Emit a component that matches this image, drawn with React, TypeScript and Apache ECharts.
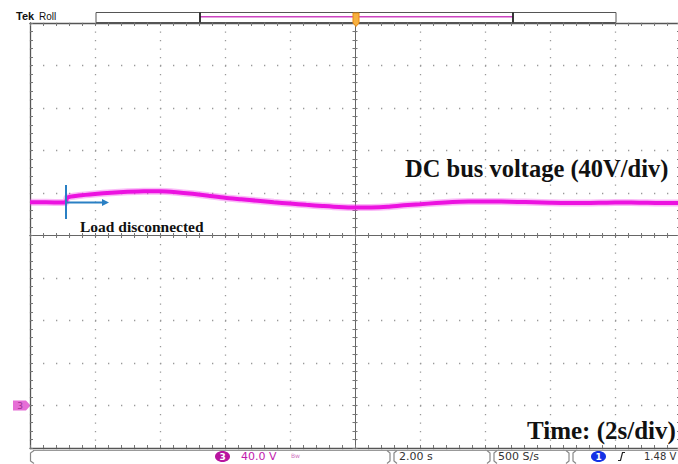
import React, { useEffect, useRef } from 'react';
import * as echarts from 'echarts';

// Time (s) since start of the 20 s roll window (2 s/div, 10 div)
const times = [0, 0.5, 1.0, 1.1, 1.15, 1.5, 2.0, 2.5, 3.0, 3.5, 4.0, 4.5, 5.0, 5.5, 6.0, 6.5, 7.0, 7.5, 8.0, 8.5, 9.0, 9.5, 10.0, 10.5, 11.0, 11.5, 12.0, 12.5, 13.0, 13.5, 14.0, 14.5, 15.0, 15.5, 16.0, 16.5, 17.0, 17.5, 18.0, 18.5, 19.0, 19.5, 20.0];
// DC bus voltage (V), ground reference = 0 V, 40 V/div
const volts = [191.3, 191.2, 191.1, 191.1, 195.8, 197.6, 199.1, 200.2, 201.1, 201.7, 201.7, 200.8, 199.3, 197.4, 195.5, 194.1, 192.7, 191.3, 190.1, 188.9, 187.8, 186.8, 186.3, 186.4, 187.1, 188.4, 189.4, 190.6, 191.5, 191.9, 192.0, 191.9, 191.6, 191.3, 190.9, 190.6, 190.6, 190.8, 191.0, 191.0, 190.8, 190.6, 190.6];

const timeMin = 0;
const timeMax = 20;
const timeStep = 2;
const voltMin = -40;
const voltMax = 360;
const voltStep = 40;
const divMin = -5;
const divMax = 5;

const annotationTitle = 'DC bus voltage (40V/div)';
const annotationEvent = 'Load disconnected';
const annotationTime = 'Time: (2s/div)';
const statusTexts = { ch3Scale: '40.0 V', timebase: '2.00 s', rate: '500 S/s', trig: '1.48 V' };

export default function App() {
  const ref = useRef<HTMLDivElement>(null);

  useEffect(() => {
    if (!ref.current) return;
    const chart = echarts.init(ref.current, undefined, { renderer: 'svg' });

    const borderLine = { show: true, onZero: false, lineStyle: { color: '#555', width: 1.3 } };
    const tickIn = { show: true, inside: true, length: 3, lineStyle: { color: '#777', width: 1 } };
    const minorIn = { show: true, splitNumber: 5, length: 3, lineStyle: { color: '#777', width: 1 } };
    const noLabel = { show: false };

    const crossLine = (idx: number) => ({ show: true, onZero: true, onZeroAxisIndex: idx, lineStyle: { color: '#666', width: 1 } });
    const crossTick = (inside: boolean) => ({ show: true, inside, length: 2.5, lineStyle: { color: '#777', width: 1 } });
    const crossMinor = { show: true, splitNumber: 5, length: 2.5, lineStyle: { color: '#777', width: 1 } };

    const traceData = times.map((t, i) => [t, volts[i]]);
    const font = 'DejaVu Sans';
    const serif = 'Liberation Serif';

    const option: any = {
      animation: false,
      backgroundColor: '#ffffff',
      grid: { left: 30, top: 23, width: 650, height: 425, outerBoundsMode: 'none', containLabel: false },
      xAxis: [
        {
          type: 'value', min: timeMin, max: timeMax, interval: timeStep, position: 'bottom',
          axisLine: borderLine, axisTick: tickIn, minorTick: minorIn, axisLabel: noLabel,
          splitLine: { show: true, lineStyle: { color: '#999', width: 1.3, type: [1.3, 7.2] } },
        },
        {
          type: 'value', min: timeMin, max: timeMax, interval: timeStep, position: 'top',
          axisLine: borderLine, axisTick: tickIn, minorTick: minorIn, axisLabel: noLabel,
          splitLine: { show: false },
        },
        {
          type: 'value', min: divMin, max: divMax, interval: 1, position: 'bottom',
          axisLine: crossLine(2), axisTick: crossTick(true), minorTick: crossMinor, axisLabel: noLabel,
          splitLine: { show: false },
        },
        {
          type: 'value', min: divMin, max: divMax, interval: 1, position: 'bottom',
          axisLine: crossLine(2), axisTick: crossTick(false), minorTick: crossMinor, axisLabel: noLabel,
          splitLine: { show: false },
        },
      ],
      yAxis: [
        {
          type: 'value', min: voltMin, max: voltMax, interval: voltStep, position: 'left',
          axisLine: borderLine, axisTick: tickIn, minorTick: minorIn, axisLabel: noLabel,
          splitLine: { show: true, lineStyle: { color: '#999', width: 1.3, type: [1.3, 11.7] } },
        },
        {
          type: 'value', min: voltMin, max: voltMax, interval: voltStep, position: 'right',
          axisLine: borderLine, axisTick: tickIn, minorTick: minorIn, axisLabel: noLabel,
          splitLine: { show: false },
        },
        {
          type: 'value', min: divMin, max: divMax, interval: 1, position: 'left',
          axisLine: crossLine(2), axisTick: crossTick(true), minorTick: crossMinor, axisLabel: noLabel,
          splitLine: { show: false },
        },
        {
          type: 'value', min: divMin, max: divMax, interval: 1, position: 'left',
          axisLine: crossLine(2), axisTick: crossTick(false), minorTick: crossMinor, axisLabel: noLabel,
          splitLine: { show: false },
        },
      ],
      series: [
        {
          type: 'line', xAxisIndex: 0, yAxisIndex: 0, data: traceData, showSymbol: false, smooth: 0.2,
          lineStyle: { color: '#f03ce8', width: 7, opacity: 0.35 }, z: 3, silent: true,
        },
        {
          type: 'line', xAxisIndex: 0, yAxisIndex: 0, data: traceData, showSymbol: false, smooth: 0.2,
          lineStyle: { color: '#ec12e0', width: 4 }, z: 4, silent: true,
        },
      ],
      graphic: [
        // header
        { type: 'text', left: 16, top: 10, style: { text: 'Tek', font: `bold 11px "Liberation Sans"`, fill: '#111' } },
        { type: 'text', left: 39, top: 11, style: { text: 'Roll', font: `10px "Liberation Sans"`, fill: '#111' } },
        { type: 'rect', shape: { x: 96, y: 12.5, width: 520, height: 10 }, style: { fill: '#fff', stroke: '#555', lineWidth: 1 } },
        { type: 'line', shape: { x1: 200, y1: 16.7, x2: 513, y2: 16.7 }, style: { stroke: '#cc44c0', lineWidth: 1.5 } },
        { type: 'line', shape: { x1: 200, y1: 12.5, x2: 200, y2: 22.5 }, style: { stroke: '#222', lineWidth: 1.8 } },
        { type: 'line', shape: { x1: 513, y1: 12.5, x2: 513, y2: 22.5 }, style: { stroke: '#222', lineWidth: 1.8 } },
        { type: 'polygon', z: 10, shape: { points: [[353, 13], [359, 13], [359, 23], [356, 26.5], [353, 23]] }, style: { fill: '#f7b040', stroke: '#e88a10', lineWidth: 1 } },
        // ground marker channel 3
        { type: 'polygon', shape: { points: [[13, 400.5], [26, 400.5], [30.5, 405.5], [26, 410.5], [13, 410.5]] }, style: { fill: '#e66ed6' } },
        { type: 'text', x: 20, y: 405.5, style: { text: '3', font: `9px "${font}"`, fill: '#a03095', align: 'center', verticalAlign: 'middle' } },
        // status bar
        { type: 'line', shape: { x1: 33, y1: 450.5, x2: 678, y2: 450.5 }, style: { stroke: '#999', lineWidth: 1 } },
        { type: 'polyline', shape: { points: [[34, 450.5], [30.5, 453], [30.5, 461], [34, 463.5]] }, style: { stroke: '#888', lineWidth: 1.2, fill: null } },
        { type: 'polyline', shape: { points: [[387, 450.5], [390, 453], [390, 461], [387, 463.5]] }, style: { stroke: '#888', lineWidth: 1.2, fill: null } },
        { type: 'polyline', shape: { points: [[397, 450.5], [394, 453], [394, 461], [397, 463.5]] }, style: { stroke: '#888', lineWidth: 1.2, fill: null } },
        { type: 'polyline', shape: { points: [[487, 450.5], [490, 453], [490, 461], [487, 463.5]] }, style: { stroke: '#888', lineWidth: 1.2, fill: null } },
        { type: 'polyline', shape: { points: [[497, 450.5], [494, 453], [494, 461], [497, 463.5]] }, style: { stroke: '#888', lineWidth: 1.2, fill: null } },
        { type: 'polyline', shape: { points: [[566, 450.5], [569, 453], [569, 461], [566, 463.5]] }, style: { stroke: '#888', lineWidth: 1.2, fill: null } },
        { type: 'polyline', shape: { points: [[576, 450.5], [573, 453], [573, 461], [576, 463.5]] }, style: { stroke: '#888', lineWidth: 1.2, fill: null } },
        { type: 'ellipse', shape: { cx: 222.5, cy: 456.5, rx: 7.5, ry: 5.5 }, style: { fill: '#b8159f' } },
        { type: 'text', x: 222.5, y: 456.8, style: { text: '3', font: `bold 9px "${font}"`, fill: '#fff', align: 'center', verticalAlign: 'middle' } },
        { type: 'text', x: 241, y: 456.5, style: { text: statusTexts.ch3Scale, font: `11px "${font}"`, fill: '#c21aae', verticalAlign: 'middle' } },
        { type: 'text', x: 291, y: 455, style: { text: 'Bw', font: `6px "${font}"`, fill: '#d070c0', verticalAlign: 'middle' } },
        { type: 'text', x: 399, y: 456.5, style: { text: statusTexts.timebase, font: `11px "${font}"`, fill: '#333', verticalAlign: 'middle' } },
        { type: 'text', x: 498, y: 456.5, style: { text: statusTexts.rate, font: `11px "${font}"`, fill: '#333', verticalAlign: 'middle' } },
        { type: 'ellipse', shape: { cx: 598.5, cy: 456.5, rx: 7.5, ry: 5.5 }, style: { fill: '#1432e6' } },
        { type: 'text', x: 598.5, y: 456.8, style: { text: '1', font: `bold 9px "${font}"`, fill: '#fff', align: 'center', verticalAlign: 'middle' } },
        { type: 'polyline', shape: { points: [[618, 460.5], [620.5, 460.5], [622.5, 452.5], [625, 452.5]] }, style: { stroke: '#222', lineWidth: 1.2, fill: null } },
        { type: 'text', x: 644, y: 456.5, style: { text: statusTexts.trig, font: `10px "${font}"`, fill: '#333', verticalAlign: 'middle' } },
        // annotations
        { type: 'line', z: 20, shape: { x1: 66, y1: 185, x2: 66, y2: 219 }, style: { stroke: '#2a80c4', lineWidth: 2 } },
        { type: 'line', z: 20, shape: { x1: 66, y1: 202.5, x2: 104, y2: 202.5 }, style: { stroke: '#2a80c4', lineWidth: 2 } },
        { type: 'polygon', z: 20, shape: { points: [[102, 199], [109, 202.5], [102, 206]] }, style: { fill: '#2a80c4' } },
        { type: 'text', z: 20, x: 80, y: 226, style: { text: annotationEvent, font: `bold 15.5px "${serif}"`, fill: '#111', verticalAlign: 'middle' } },
        { type: 'text', z: 20, x: 405, y: 168, style: { text: annotationTitle, font: `bold 24.5px "${serif}"`, fill: '#111', verticalAlign: 'middle' } },
        { type: 'text', z: 20, x: 527, y: 430, style: { text: annotationTime, font: `bold 25px "${serif}"`, fill: '#111', verticalAlign: 'middle' } },
      ],
    };

    chart.setOption(option);
    return () => chart.dispose();
  }, []);

  return (
    <div
      ref={ref}
      style={{ position: 'fixed', left: 0, top: 0, width: 678, height: 464, background: '#fff' }}
    />
  );
}
